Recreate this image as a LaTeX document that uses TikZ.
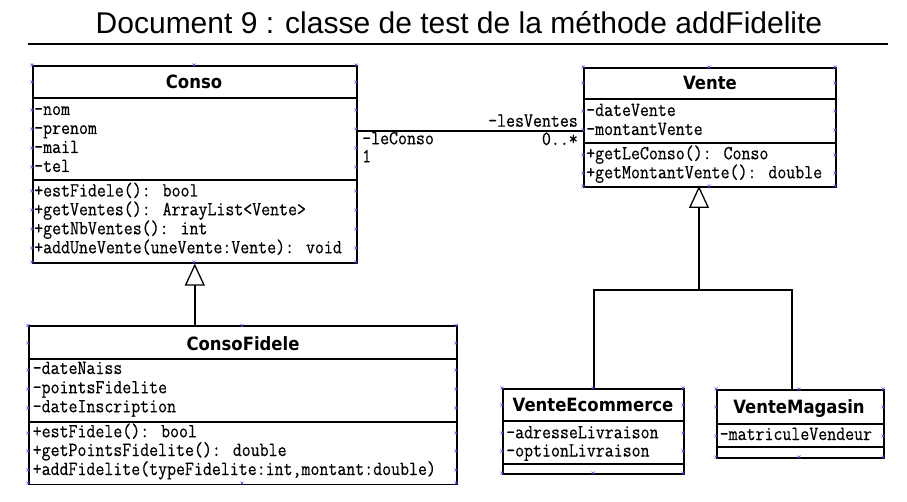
\documentclass[tikz,border=0pt]{standalone}
\usepackage{fontspec}
\setmainfont{Liberation Sans}
\newfontfamily\monofont[FakeStretch=0.87,FakeBold=0.4]{Latin Modern Mono}
\newfontfamily\classfont[FakeStretch=0.9]{DejaVu Sans}
\usetikzlibrary{arrows.meta}
\tikzset{
  box/.style={draw, line width=1.6pt, inner sep=0pt, anchor=north west},
  sep/.style={line width=1.4pt},
  conn/.style={line width=1.6pt},
  gen/.style={line width=1.6pt, -{Triangle[open,length=22pt,width=20pt,line width=1.3pt]}},
  head/.style={inner sep=0pt, anchor=base, font=\classfont\bfseries\fontsize{18.3}{20}\selectfont},
  row/.style={inner sep=0pt, anchor=base west, font=\monofont\fontsize{20}{22}\selectfont},
  lbl/.style={inner sep=0pt, font=\monofont\fontsize{20}{22}\selectfont},
  hm/.style={draw=blue!70, line width=0.5pt},
}
\begin{document}
\begin{tikzpicture}[x=1pt,y=-1pt]
\useasboundingbox (0,0) rectangle (907,502);
% title
\node[inner sep=0pt, anchor=base, font=\fontsize{30}{34}\selectfont] (title) at (459,34) {Document 9 : classe de test de la méthode addFidelite};
\draw[line width=2.2pt] (28,44) -- (888,44);

% Conso
\node[box, minimum width=324pt, minimum height=197pt] (conso) at (32,65) {};
\draw[sep] (conso.west |- 0,98) -- (conso.east |- 0,98);
\draw[sep] (conso.west |- 0,180) -- (conso.east |- 0,180);
\node[head] (consoT) at (194,89) {Conso};
\node[row] (c1) at (34,115) {-nom};
\node[row] (c2) at (34,134) {-prenom};
\node[row] (c3) at (34,153) {-mail};
\node[row] (c4) at (34,172) {-tel};
\node[row] (c5) at (34,196.5) {+estFidele(): bool};
\node[row] (c6) at (34,215.3) {+getVentes(): ArrayList<Vente>};
\node[row] (c7) at (34,234.3) {+getNbVentes(): int};
\node[row] (c8) at (34,253.3) {+addUneVente(uneVente:Vente): void};

% Vente
\node[box, minimum width=252pt, minimum height=119pt] (vente) at (583,67) {};
\draw[sep] (vente.west |- 0,99) -- (vente.east |- 0,99);
\draw[sep] (vente.west |- 0,143) -- (vente.east |- 0,143);
\node[head] (venteT) at (710,90) {Vente};
\node[row] (v1) at (586,116) {-dateVente};
\node[row] (v2) at (586,135) {-montantVente};
\node[row] (v3) at (586,159.3) {+getLeConso(): Conso};
\node[row] (v4) at (586,178.3) {+getMontantVente(): double};

% ConsoFidele
\node[box, minimum width=428pt, minimum height=158pt] (cf) at (28,325.5) {};
\draw[sep] (cf.west |- 0,359) -- (cf.east |- 0,359);
\draw[sep] (cf.west |- 0,422) -- (cf.east |- 0,422);
\node[head] (cfT) at (243,350) {ConsoFidele};
\node[row] (f1) at (32.5,374) {-dateNaiss};
\node[row] (f2) at (32.5,393.3) {-pointsFidelite};
\node[row] (f3) at (32.5,412.3) {-dateInscription};
\node[row] (f4) at (32.5,437.3) {+estFidele(): bool};
\node[row] (f5) at (32.5,456) {+getPointsFidelite(): double};
\node[row] (f6) at (32.5,475) {+addFidelite(typeFidelite:int,montant:double)};

% VenteEcommerce
\node[box, minimum width=181pt, minimum height=85pt] (ve) at (502,388) {};
\draw[sep] (ve.west |- 0,421) -- (ve.east |- 0,421);
\draw[sep] (ve.west |- 0,464) -- (ve.east |- 0,464);
\node[head] (veT) at (593,411.7) {VenteEcommerce};
\node[row] (e1) at (506,438.3) {-adresseLivraison};
\node[row] (e2) at (506,456.5) {-optionLivraison};

% VenteMagasin
\node[box, minimum width=167pt, minimum height=68pt] (vm) at (716,389) {};
\draw[sep] (vm.west |- 0,424) -- (vm.east |- 0,424);
\draw[sep] (vm.west |- 0,447) -- (vm.east |- 0,447);
\node[head] (vmT) at (799,413.3) {VenteMagasin};
\node[row] (m1) at (719.5,440) {-matriculeVendeur};

% association
\draw[conn] (conso.east |- 0,131) -- (vente.west |- 0,131);
\node[lbl, anchor=base east] (l1) at (578,126.7) {-lesVentes};
\node[lbl, anchor=base east] (l2) at (578,145) {0..*};
\node[lbl, anchor=base west] (l3) at (362,144.3) {-leConso};
\node[lbl, anchor=base west] (l4) at (362,162.3) {1};

% generalization Conso <- ConsoFidele
\draw[gen] (conso.south |- cf.north) -- (conso.south);
\draw[conn] (183,325.5) -- (194,325.5);

% generalization Vente <- VenteEcommerce, VenteMagasin
\coordinate (vapex) at (699,186);
\coordinate (vj) at (699,290);
\coordinate (vjL) at (594,290);
\coordinate (vjR) at (792,290);
\draw[gen] (vj) -- (vapex);
\draw[conn] (vjL |- ve.north) -- (vjL) -- (vjR) -- (vjR |- vm.north);

% selection handles
\foreach \a/\b in {
  32/65,194/65,356/65,32/82,356/82,32/110,356/110,32/129,356/129,32/148,356/148,32/167,356/167,32/191,356/191,32/210,356/210,32/229,356/229,32/248,356/248,32/262,194/262,356/262,
  583/67,709/67,835/67,583/83,835/83,583/111,835/111,583/130,835/130,583/155,835/155,583/173,835/173,583/186,709/186,835/186,
  28/325.5,242/325.5,456/325.5,28/343,456/343,28/370,456/370,28/389,456/389,28/408,456/408,28/433,456/433,28/451,456/451,28/470,456/470,28/483,242/483,456/483,
  502/388,593/388,683/388,502/405,683/405,502/433,683/433,502/451,683/451,502/473,593/473,683/473,
  716/389,799/389,883/389,716/407,883/407,716/436,883/436,716/457,799/457,883/457}
{
  \draw[hm] (\a,\b) ++(-1.5,-1.5) -- ++(3,3) ++(0,-3) -- ++(-3,3);
}
\end{tikzpicture}
\end{document}
